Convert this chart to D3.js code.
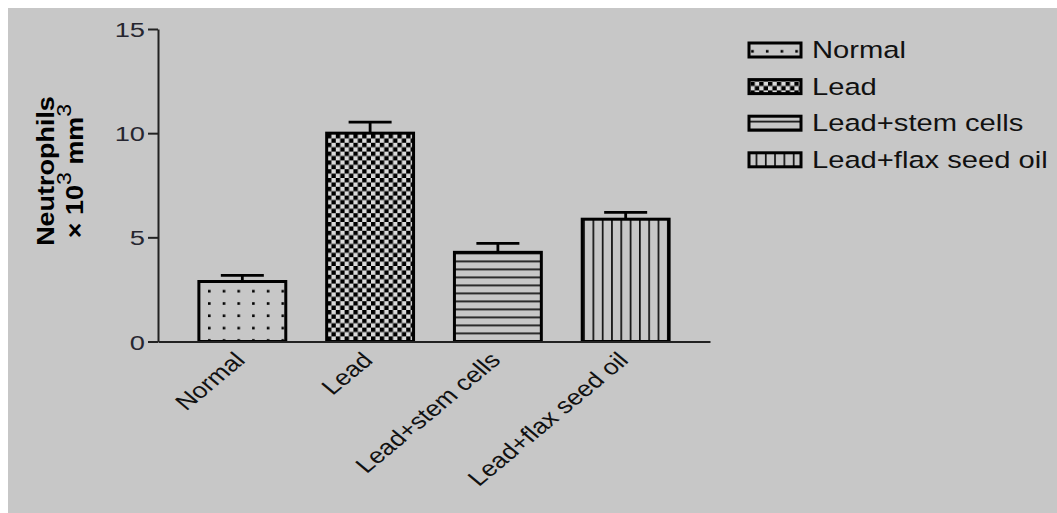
<!DOCTYPE html>
<html>
<head>
<meta charset="utf-8">
<script src="https://cdn.jsdelivr.net/npm/d3@7"></script>
<style>
  html, body { margin: 0; padding: 0; background: #ffffff; }
  svg { display: block; }
  text { font-family: "Liberation Sans", Arial, sans-serif; }
</style>
</head>
<body>
<svg id="chart" width="1057" height="513"></svg>
<script>
// Neutrophil counts (x 10^3 / mm^3), mean and SEM per group
const categories = ["Normal", "Lead", "Lead+stem cells", "Lead+flax seed oil"];
const means = [2.88, 10.0, 4.28, 5.87];
const sems = [0.29, 0.53, 0.43, 0.33];
const yTicks = [0, 5, 10, 15];
const patterns = ["dots", "checker", "hlines", "vlines"];

const svg = d3.select("#chart");
const W = 1057, H = 513;
const TEXT_SX = 1.2;   // horizontal widening of all lettering

// panel background
svg.append("rect").attr("x", 8).attr("y", 8).attr("width", W - 8).attr("height", H - 8)
  .attr("fill", "#c7c7c7");

// ----- fill patterns -----
const defs = svg.append("defs");
const bg = "#c7c7c7";

const pDots = defs.append("pattern").attr("id", "dots").attr("patternUnits", "userSpaceOnUse")
  .attr("width", 14.7).attr("height", 12.3).attr("x", 208).attr("y", 3);
pDots.append("rect").attr("width", 14.7).attr("height", 12.3).attr("fill", bg);
pDots.append("rect").attr("x", 0).attr("y", 4).attr("width", 2.6).attr("height", 2.6).attr("fill", "#000");

const pChk = defs.append("pattern").attr("id", "checker").attr("patternUnits", "userSpaceOnUse")
  .attr("width", 8.8).attr("height", 8.8).attr("x", 327).attr("y", 134);
pChk.append("rect").attr("width", 8.8).attr("height", 8.8).attr("fill", "#dadada");
pChk.append("rect").attr("x", 0).attr("y", 0).attr("width", 4.4).attr("height", 4.4).attr("fill", "#000");
pChk.append("rect").attr("x", 4.4).attr("y", 4.4).attr("width", 4.4).attr("height", 4.4).attr("fill", "#000");

const pH = defs.append("pattern").attr("id", "hlines").attr("patternUnits", "userSpaceOnUse")
  .attr("width", 10).attr("height", 8).attr("y", 1.5);
pH.append("rect").attr("width", 10).attr("height", 8).attr("fill", bg);
pH.append("rect").attr("x", 0).attr("y", 3).attr("width", 10).attr("height", 1.7).attr("fill", "#111");

const pV = defs.append("pattern").attr("id", "vlines").attr("patternUnits", "userSpaceOnUse")
  .attr("width", 9.3).attr("height", 10).attr("x", 6.6);
pV.append("rect").attr("width", 9.3).attr("height", 10).attr("fill", bg);
pV.append("rect").attr("x", 0).attr("y", 0).attr("width", 1.7).attr("height", 10).attr("fill", "#111");

// ----- scales -----
const x = d3.scaleBand().domain(categories).range([158, 710]).paddingInner(0.32).paddingOuter(0.32);
const y = d3.scaleLinear().domain([0, 15]).range([341.5, 29]);

// ----- bars -----
const rows = categories.map((c, i) => ({ c, m: means[i], e: sems[i], p: patterns[i] }));

svg.append("g").selectAll("rect").data(rows).join("rect")
  .attr("x", d => x(d.c))
  .attr("y", d => y(d.m))
  .attr("width", x.bandwidth())
  .attr("height", d => y(0) - y(d.m))
  .attr("fill", d => `url(#${d.p})`)
  .attr("stroke", "#000").attr("stroke-width", 3);

// ----- error bars (upper only) -----
const eb = svg.append("g").attr("stroke", "#000").attr("stroke-width", 2.8);
eb.selectAll("line.stem").data(rows).join("line").attr("class", "stem")
  .attr("x1", d => x(d.c) + x.bandwidth() / 2).attr("x2", d => x(d.c) + x.bandwidth() / 2)
  .attr("y1", d => y(d.m)).attr("y2", d => y(d.m + d.e));
eb.selectAll("line.cap").data(rows).join("line").attr("class", "cap")
  .attr("x1", d => x(d.c) + x.bandwidth() / 2 - 21.5).attr("x2", d => x(d.c) + x.bandwidth() / 2 + 21.5)
  .attr("y1", d => y(d.m + d.e)).attr("y2", d => y(d.m + d.e));

// ----- y axis -----
const yAxis = svg.append("g").attr("transform", "translate(158,0)")
  .call(d3.axisLeft(y).tickValues(yTicks).tickSize(10).tickSizeOuter(0));
yAxis.select(".domain").attr("stroke", "#222").attr("stroke-width", 2);
yAxis.selectAll(".tick line").attr("stroke", "#222").attr("stroke-width", 2);
yAxis.selectAll(".tick text")
  .attr("x", null).attr("dy", "0.36em")
  .attr("transform", "translate(-13,0) scale(1.3,1)")
  .attr("font-size", 21).attr("fill", "#262630")
  .attr("font-family", "'Liberation Sans', Arial, sans-serif");

// ----- x axis -----
const xAxis = svg.append("g").attr("transform", `translate(0,${y(0)})`)
  .call(d3.axisBottom(x).tickSize(0).tickSizeOuter(0));
xAxis.select(".domain").attr("stroke", "#222").attr("stroke-width", 2);
xAxis.selectAll(".tick text")
  .attr("y", null).attr("dy", null)
  .attr("text-anchor", "end")
  .attr("transform", `translate(4,20) scale(${TEXT_SX},1) rotate(-45)`)
  .attr("font-size", 22).attr("fill", "#111")
  .attr("font-family", "'Liberation Sans', Arial, sans-serif");

// ----- y axis title -----
const yt = svg.append("g").attr("font-weight", "bold").attr("fill", "#000");
yt.append("text")
  .attr("transform", "translate(54,171) rotate(-90) scale(1.1,1)")
  .attr("text-anchor", "middle").attr("font-size", 24.5)
  .text("Neutrophils");
const yt2 = yt.append("text")
  .attr("transform", "translate(83,171) rotate(-90) scale(1.1,1)")
  .attr("text-anchor", "middle").attr("font-size", 24.5);
yt2.append("tspan").text("\u00d7 10");
yt2.append("tspan").attr("dy", -12).attr("font-size", 21).attr("font-weight", "normal").text("3");
yt2.append("tspan").attr("dy", 12).text(" mm");
yt2.append("tspan").attr("dy", -12).attr("font-size", 21).attr("font-weight", "normal").text("3");

// ----- legend -----
const lg = svg.append("g").attr("transform", "translate(749,43)");
const li = lg.selectAll("g").data(rows).join("g")
  .attr("transform", (d, i) => `translate(0,${i * 36.6})`);
li.append("rect").attr("width", 52).attr("height", 14)
  .attr("fill", d => `url(#${d.p})`).attr("stroke", "#000").attr("stroke-width", 3);
li.append("text")
  .attr("transform", `translate(63,15) scale(1.19,1)`)
  .attr("font-size", 24.5).attr("fill", "#111")
  .text(d => d.c);
</script>
</body>
</html>
